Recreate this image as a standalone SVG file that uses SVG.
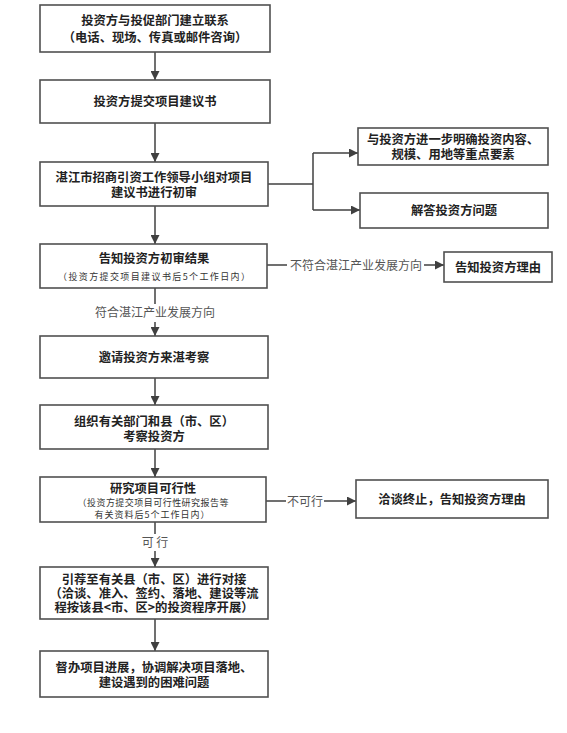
<svg xmlns="http://www.w3.org/2000/svg" width="567" height="733" viewBox="0 0 567 733">
<defs>
<style>
.box{fill:#fff;stroke:#505050;stroke-width:1.6}
.t{font-family:"Noto Sans CJK SC","Liberation Sans",sans-serif;font-size:12.3px;font-weight:bold;fill:#222;text-anchor:middle}
.s{font-family:"Noto Sans CJK SC","Liberation Sans",sans-serif;font-size:9px;fill:#333;text-anchor:middle}
.l{font-family:"Noto Sans CJK SC","Liberation Sans",sans-serif;font-size:12px;fill:#555;text-anchor:middle}
.c{fill:none;stroke:#404040;stroke-width:1.5}
</style>
<marker id="ah" viewBox="0 0 10 10" refX="10" refY="5" markerWidth="10" markerHeight="9" markerUnits="userSpaceOnUse" orient="auto">
<path d="M0,0 L10,5 L0,10 Z" fill="#404040"/>
</marker>
</defs>
<rect width="567" height="733" fill="#fff"/>
<g id="connectors">
<line class="c" x1="155" y1="52" x2="155" y2="80" marker-end="url(#ah)"/>
<line class="c" x1="155" y1="123" x2="155" y2="162" marker-end="url(#ah)"/>
<polyline class="c" points="268,184 313,184"/>
<polyline class="c" points="313,153 313,210"/>
<line class="c" x1="313" y1="153" x2="358" y2="153" marker-end="url(#ah)"/>
<line class="c" x1="313" y1="210" x2="360" y2="210" marker-end="url(#ah)"/>
<line class="c" x1="155" y1="206" x2="155" y2="244" marker-end="url(#ah)"/>
<line class="c" x1="267" y1="265" x2="287" y2="265"/>
<line class="c" x1="424" y1="265" x2="444" y2="265" marker-end="url(#ah)"/>
<text class="l" x="356" y="269.5">不符合湛江产业发展方向</text>
<line class="c" x1="155" y1="288" x2="155" y2="304"/>
<text class="l" x="155" y="317">符合湛江产业发展方向</text>
<line class="c" x1="155" y1="322" x2="155" y2="336" marker-end="url(#ah)"/>
<line class="c" x1="155" y1="378" x2="155" y2="405" marker-end="url(#ah)"/>
<line class="c" x1="155" y1="449" x2="155" y2="477" marker-end="url(#ah)"/>
<line class="c" x1="266" y1="501" x2="286" y2="501"/>
<text class="l" x="305" y="505.5">不可行</text>
<line class="c" x1="324" y1="501" x2="356" y2="501" marker-end="url(#ah)"/>
<line class="c" x1="155" y1="522" x2="155" y2="534"/>
<text class="l" x="155" y="547">可 行</text>
<line class="c" x1="155" y1="551" x2="155" y2="567" marker-end="url(#ah)"/>
<line class="c" x1="155" y1="619" x2="155" y2="651" marker-end="url(#ah)"/>
</g>
<g id="n1">
<rect class="box" x="40" y="5" width="230" height="47"/>
<text class="t" x="155" y="25">投资方与投促部门建立联系</text>
<text class="t" x="155" y="42">（电话、现场、传真或邮件咨询）</text>
</g>
<g id="n2">
<rect class="box" x="40" y="80" width="230" height="43"/>
<text class="t" x="155" y="106">投资方提交项目建议书</text>
</g>
<g id="n3">
<rect class="box" x="40" y="162" width="228" height="44"/>
<text class="t" x="154" y="182">湛江市招商引资工作领导小组对项目</text>
<text class="t" x="154" y="197">建议书进行初审</text>
</g>
<g id="n4">
<rect class="box" x="358" y="128" width="190" height="37"/>
<text class="t" x="453" y="144">与投资方进一步明确投资内容、</text>
<text class="t" x="453" y="159">规模、用地等重点要素</text>
</g>
<g id="n5">
<rect class="box" x="360" y="193" width="188" height="35"/>
<text class="t" x="454" y="215">解答投资方问题</text>
</g>
<g id="n6">
<rect class="box" x="40" y="244" width="227" height="44"/>
<text class="t" x="154" y="263">告知投资方初审结果</text>
<text class="s" x="154" y="280" textLength="192" lengthAdjust="spacing">（投资方提交项目建议书后5个工作日内）</text>
</g>
<g id="n7">
<rect class="box" x="444" y="252" width="108" height="30"/>
<text class="t" x="498" y="271.5">告知投资方理由</text>
</g>
<g id="n8">
<rect class="box" x="40" y="336" width="228" height="42"/>
<text class="t" x="154" y="361.5">邀请投资方来湛考察</text>
</g>
<g id="n9">
<rect class="box" x="40" y="405" width="228" height="44"/>
<text class="t" x="154" y="426">组织有关部门和县（市、区）</text>
<text class="t" x="154" y="441">考察投资方</text>
</g>
<g id="n10">
<rect class="box" x="40" y="477" width="226" height="45"/>
<text class="t" x="153" y="493">研究项目可行性</text>
<text class="s" x="153" y="506" textLength="151" lengthAdjust="spacing">（投资方提交项目可行性研究报告等</text>
<text class="s" x="152" y="518" textLength="115" lengthAdjust="spacing">有关资料后5个工作日内）</text>
</g>
<g id="n11">
<rect class="box" x="356" y="480" width="192" height="38"/>
<text class="t" x="452" y="504">洽谈终止，告知投资方理由</text>
</g>
<g id="n12">
<rect class="box" x="40" y="567" width="228" height="52"/>
<text class="t" x="154" y="584">引荐至有关县（市、区）进行对接</text>
<text class="t" x="154" y="598">（洽谈、准入、签约、落地、建设等流</text>
<text class="t" x="154" y="612">程按该县&lt;市、区&gt;的投资程序开展）</text>
</g>
<g id="n13">
<rect class="box" x="40" y="651" width="228" height="46"/>
<text class="t" x="154" y="672">督办项目进展，协调解决项目落地、</text>
<text class="t" x="154" y="687">建设遇到的困难问题</text>
</g>
</svg>
